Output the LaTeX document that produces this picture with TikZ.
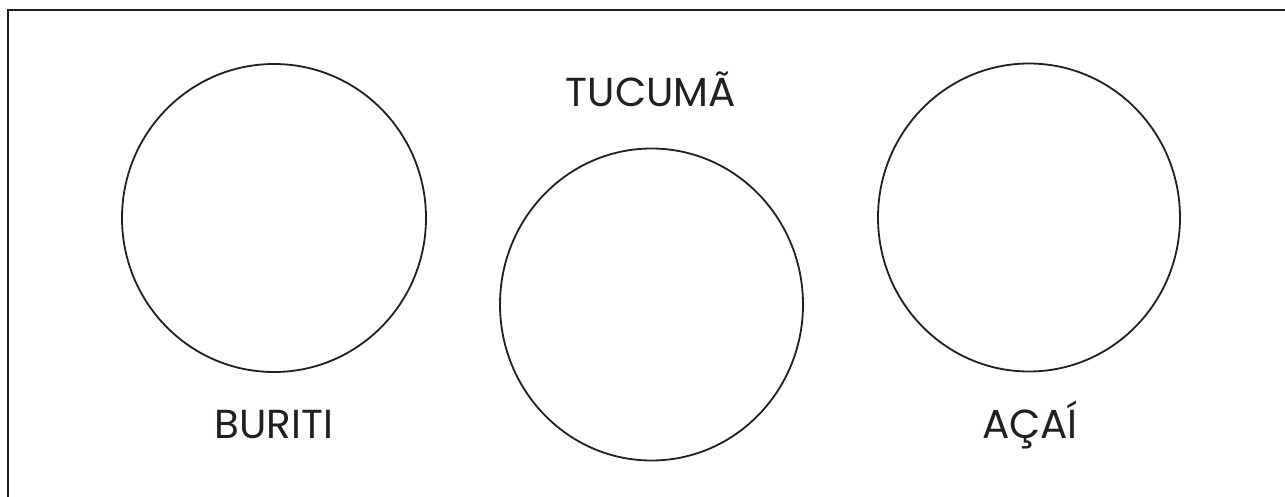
\documentclass[tikz,border=0pt]{standalone}
\usepackage{fontspec}
\setmainfont{Poppins}
\definecolor{ink}{HTML}{231F20}
\begin{document}
\begin{tikzpicture}[x=1pt,y=-1pt,
  ring/.style={draw=ink,line width=1.8pt},
  lbl/.style={text=ink,font=\fontsize{40.5}{45}\selectfont,inner sep=0pt,anchor=base}]
\useasboundingbox (0,0) rectangle (1285,496);
\fill[white] (0,0) rectangle (1285,496);
\draw[ink,line width=2.6pt] (8,520) -- (8,10) -- (1300,10);
\draw[ring] (274,218) ellipse [x radius=152,y radius=154];
\node[inner sep=0pt] (buriti) at (274,218) {};
\draw[ring] (651.5,304.5) ellipse [x radius=151.5,y radius=156];
\node[inner sep=0pt] (tucuma) at (651.5,304.5) {};
\draw[ring] (1029,217.5) ellipse [x radius=151,y radius=154];
\node[inner sep=0pt] (acai) at (1029,217.5) {};
\node[lbl] (tbur) at (274,438) {BURITI};
\node[lbl] (ttuc) at (651,106) {TUCUMÃ};
\node[lbl] (taca) at (1030,438) {AÇAÍ};
\end{tikzpicture}
\end{document}
